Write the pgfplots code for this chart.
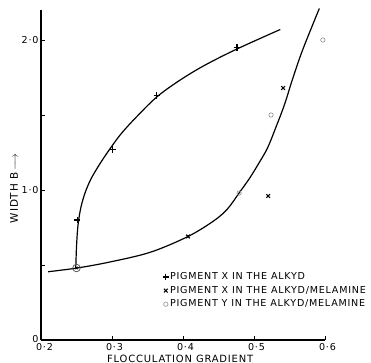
\documentclass[border=0pt]{standalone}
\usepackage{fontspec}
\setmainfont{DejaVu Sans}
\newfontfamily\wide[LetterSpace=8]{DejaVu Sans}
\usepackage{pgfplots}
\pgfplotsset{compat=1.18}
\begin{document}
\begin{tikzpicture}
\begin{axis}[
  scale only axis,
  width=284bp, height=330bp,
  xmin=0.2, xmax=0.6, ymin=0, ymax=2.2,
  axis lines*=left,
  axis line style={line width=1.1bp},
  tick style={line width=0.9bp, black},
  tick align=inside,
  major tick length=4bp,
  xtick={0.2,0.3,0.4,0.5,0.6},
  xticklabels={\hspace{2bp}0·2,0·3,0·4,0·5,0·6},
  ytick={0,0.5,1,1.5,2},
  yticklabels={\raisebox{1.5bp}{0}\hspace{1.5bp},,1·0,,2·0},
  tick label style={font=\wide\fontsize{9.6}{11}\selectfont},
  xticklabel style={yshift=0bp, xshift=2.5bp},
  yticklabel style={xshift=1bp},
  xlabel={FLOCCULATION\ GRADIENT},
  xlabel style={at={(axis description cs:0.49,-0.058)}, anchor=center, font=\wide\fontsize{10}{12}\selectfont},
  ylabel={WIDTH B\,$\longrightarrow$},
  ylabel style={at={(axis description cs:-0.095,0.46)}, anchor=center, rotate=0, font=\wide\fontsize{10.5}{12}\selectfont},
  legend style={at={(axis cs:0.371,0.46)}, anchor=north west, draw=none, fill=none,
    inner sep=0pt, row sep=2bp, font=\wide\fontsize{9.6}{11}\selectfont,
    nodes={inner xsep=1bp, inner ysep=1.5bp}},
  legend cell align=left,
  legend image code/.code={\draw[#1] plot coordinates {(0bp,0bp)};},
  clip=false,
]
% curves
\addplot[black, line width=1.2bp, smooth, tension=0.55, forget plot] coordinates {
(0.249,0.48) (0.250,0.62) (0.252,0.76) (0.256,0.88) (0.262,0.98) (0.270,1.07) (0.281,1.16) (0.295,1.26) (0.312,1.37) (0.333,1.48) (0.363,1.62) (0.395,1.73) (0.430,1.83) (0.476,1.94) (0.537,2.07)};
\addplot[black, line width=1.2bp, smooth, tension=0.55, forget plot] coordinates {
(0.210,0.455) (0.251,0.48) (0.297,0.52) (0.354,0.585) (0.407,0.69) (0.442,0.79) (0.462,0.87) (0.479,0.98) (0.494,1.08) (0.507,1.18) (0.519,1.28) (0.531,1.42) (0.543,1.57) (0.555,1.75) (0.569,1.94) (0.592,2.21)};
% data
\addplot[only marks, mark=+, mark size=3.2bp, line width=1.1bp, black] coordinates {
(0.251,0.80) (0.301,1.27) (0.363,1.63) (0.476,1.95)};
\addlegendentry{PIGMENT X IN THE ALKYD}
\addplot[only marks, mark=x, mark size=2.6bp, line width=1.1bp, black] coordinates {
(0.407,0.69) (0.520,0.96) (0.541,1.68)};
\addlegendentry{PIGMENT X IN THE ALKYD/MELAMINE}
\addplot[only marks, mark=o, mark size=2.2bp, line width=0.6bp, black!45, fill=white] coordinates {
(0.479,0.98) (0.524,1.50) (0.597,2.00)};
\addlegendentry{PIGMENT Y IN THE ALKYD/MELAMINE}
% common point
\addplot[only marks, mark=o, mark size=3.8bp, line width=0.7bp, black!70, fill=white, forget plot] coordinates {(0.250,0.48)};
\addplot[only marks, mark=x, mark size=1.6bp, line width=0.9bp, black, forget plot] coordinates {(0.250,0.48)};
\end{axis}
\pgfresetboundingbox
\path[use as bounding box] (-41bp,-23bp) rectangle (330bp,340bp);
\end{tikzpicture}
\end{document}
